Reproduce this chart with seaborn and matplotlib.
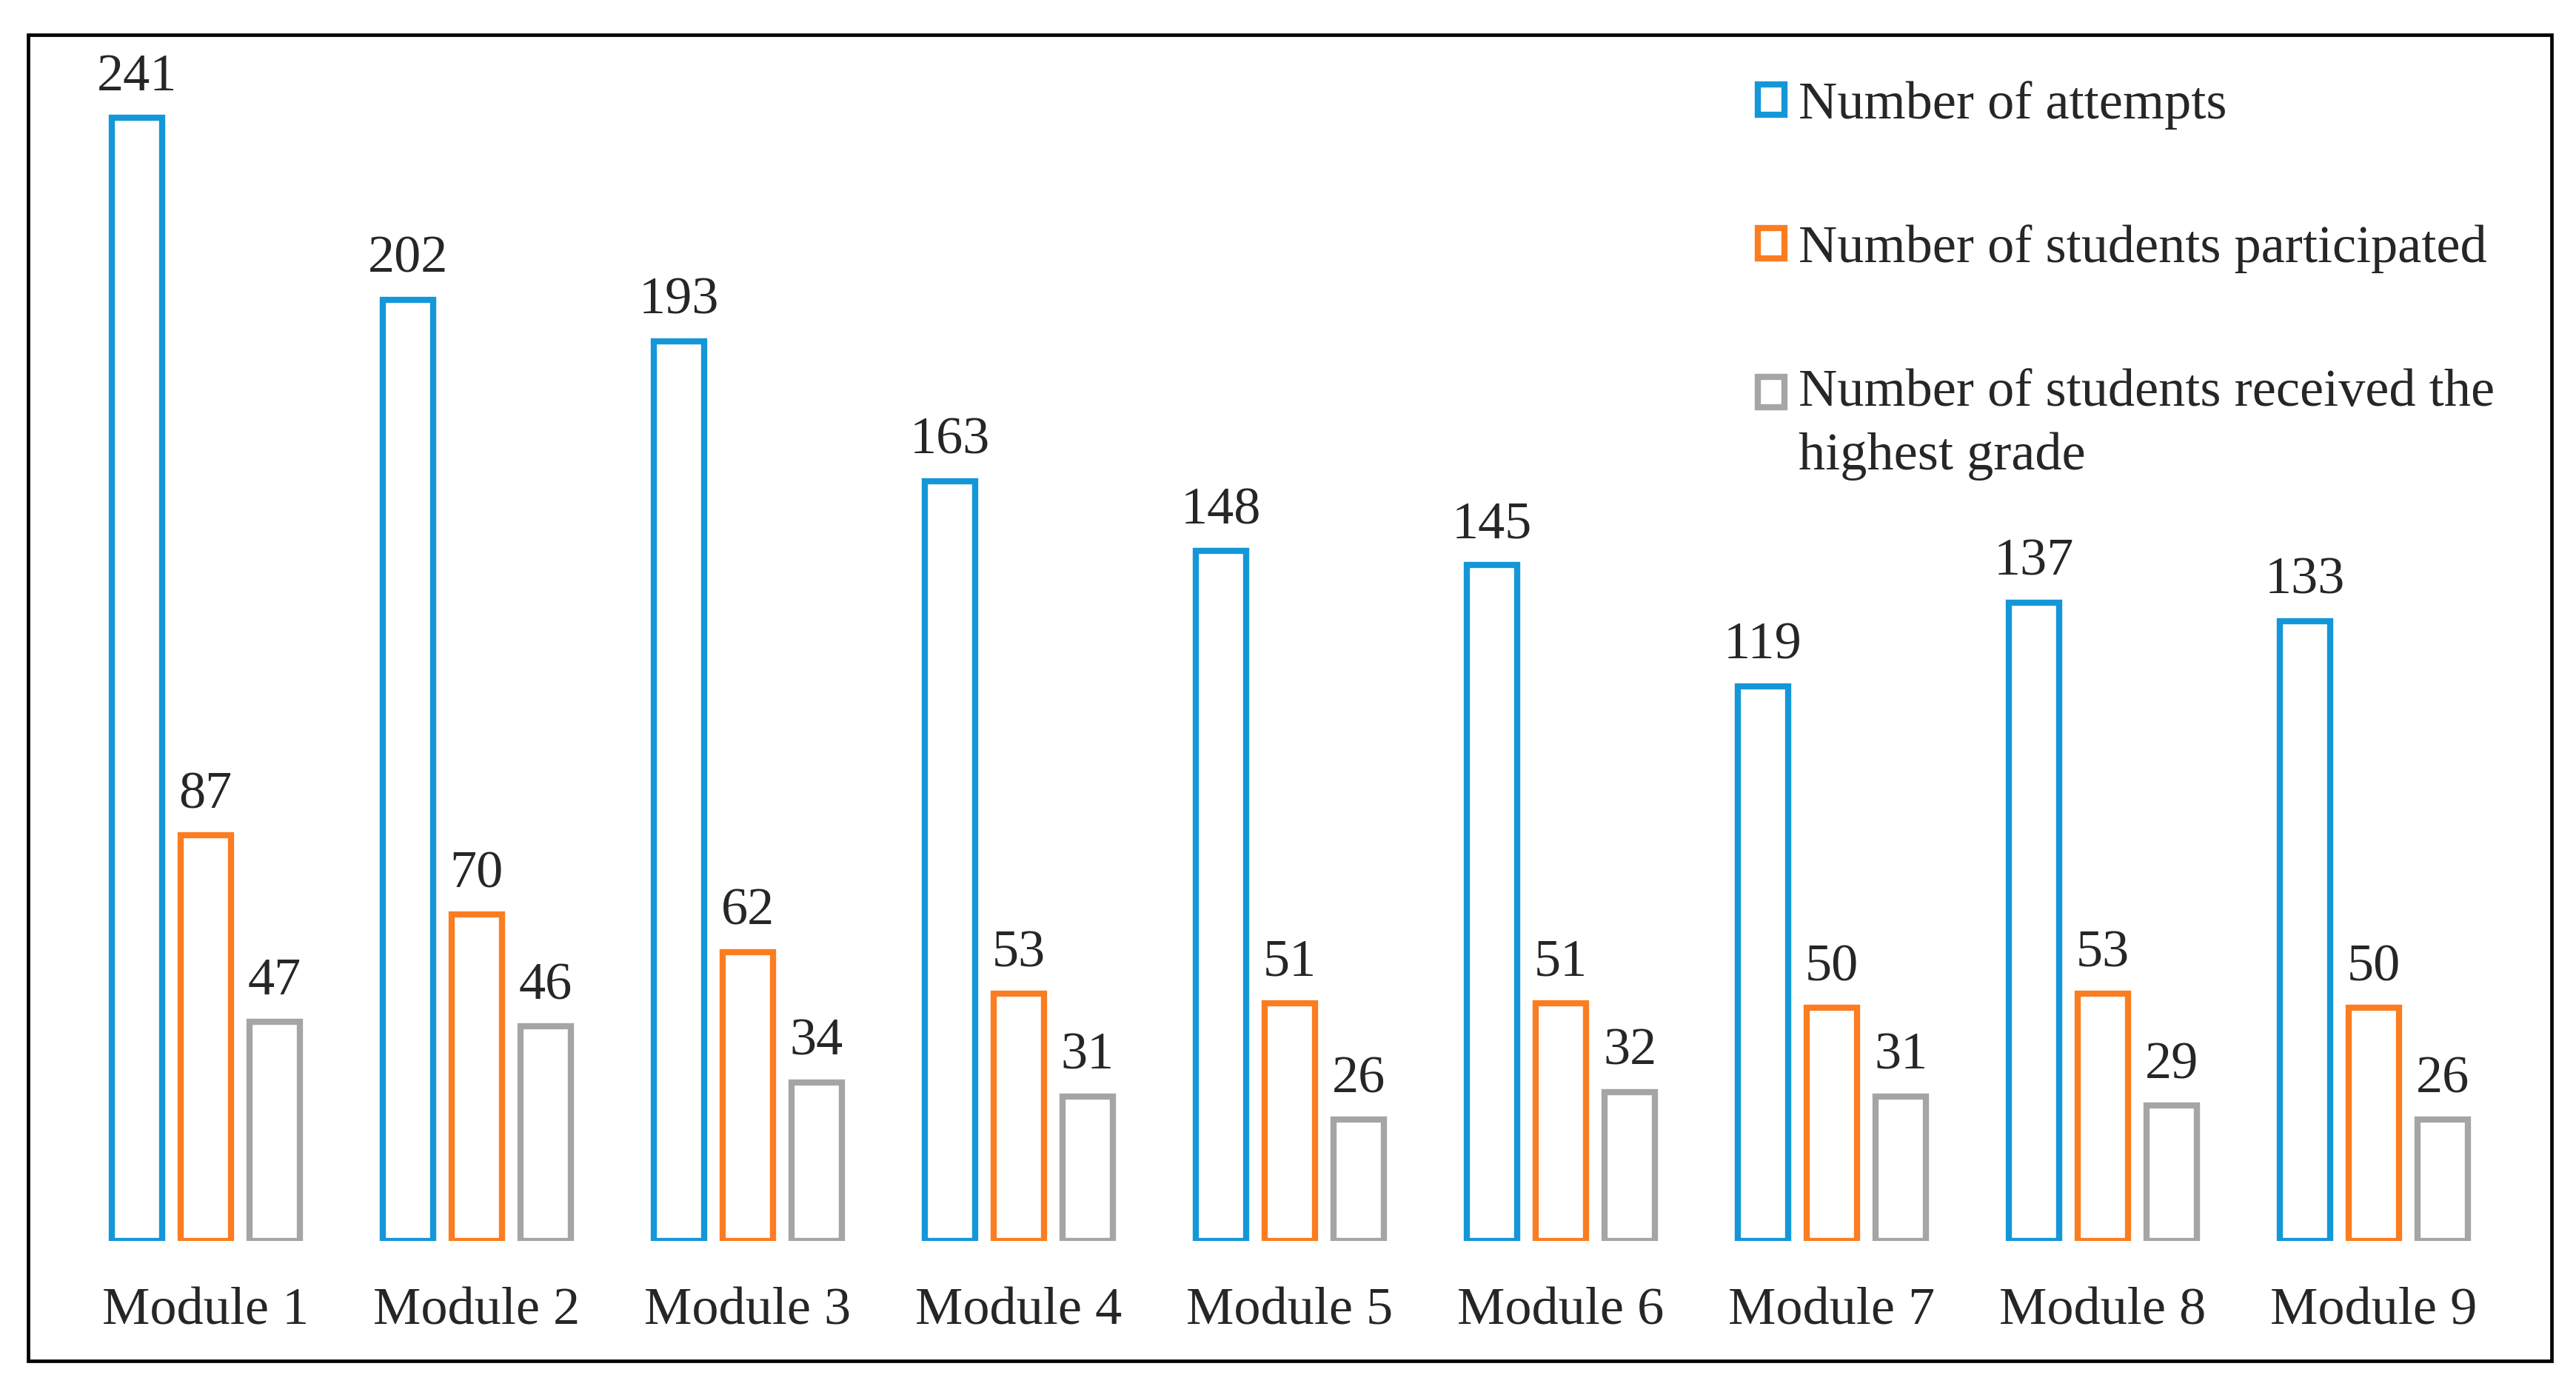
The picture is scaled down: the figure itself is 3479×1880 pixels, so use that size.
import matplotlib
matplotlib.use("Agg")
import matplotlib.pyplot as plt
from matplotlib.patches import Rectangle
from matplotlib.legend_handler import HandlerPatch
import pandas as pd
import seaborn as sns

modules = ["Module 1", "Module 2", "Module 3", "Module 4", "Module 5",
           "Module 6", "Module 7", "Module 8", "Module 9"]
attempts = [241, 202, 193, 163, 148, 145, 119, 137, 133]
participated = [87, 70, 62, 53, 51, 51, 50, 53, 50]
highest_grade = [47, 46, 34, 31, 26, 32, 31, 29, 26]
series_names = ["Number of attempts",
                "Number of students participated",
                "Number of students received the\nhighest grade"]
colors = ["#1497D8", "#FB7D21", "#A5A5A5"]

df = pd.concat([
    pd.DataFrame({"module": modules, "count": vals, "series": name})
    for name, vals in zip(series_names, [attempts, participated, highest_grade])
])

sns.set_style("white")
plt.rcParams["font.family"] = ["Liberation Serif", "DejaVu Serif"]
fs = 26

fig = plt.figure(figsize=(17.4, 9.4), dpi=200)
# outer frame around the whole chart
fig.patches.append(Rectangle((0.0109, 0.0223), 0.9793, 0.9527, transform=fig.transFigure,
                             fill=False, edgecolor="black", linewidth=1.7))
ax = fig.add_axes([0.0109, 0.1085, 0.9793, 0.975 - 0.1085])

sns.barplot(data=df, x="module", y="count", hue="series", palette=colors,
            fill=False, width=0.763, gap=0.27, linewidth=3.0, errorbar=None, ax=ax)

for c in ax.containers:
    ax.bar_label(c, padding=8, fontsize=fs)

ax.set_ylim(0, 258.8)
ax.set_xlim(-0.655, 8.655)
ax.set_xlabel("")
ax.set_ylabel("")
ax.set_yticks([])
ax.tick_params(axis="x", length=0, pad=22.5, labelsize=fs)
for s in ax.spines.values():
    s.set_visible(False)
ax.patch.set_alpha(0)


# the two-line entry keeps its marker level with the first line
def top_line_patch(legend, orig_handle, xdescent, ydescent, width, height, fontsize):
    return Rectangle((-xdescent, -ydescent + 15.5), width, height)


handles, labels = ax.get_legend_handles_labels()
leg = ax.legend(handles, labels, loc="upper left", bbox_to_anchor=(0.6822, 0.942),
                bbox_transform=fig.transFigure, frameon=False, fontsize=fs,
                borderpad=0, borderaxespad=0, handlelength=0.5, handleheight=0.5,
                handletextpad=0.26, labelspacing=1.78,
                handler_map={handles[2]: HandlerPatch(patch_func=top_line_patch)})
for t in leg.get_texts():
    t.set_linespacing(1.42)

fig.savefig("out.png", dpi=200)
